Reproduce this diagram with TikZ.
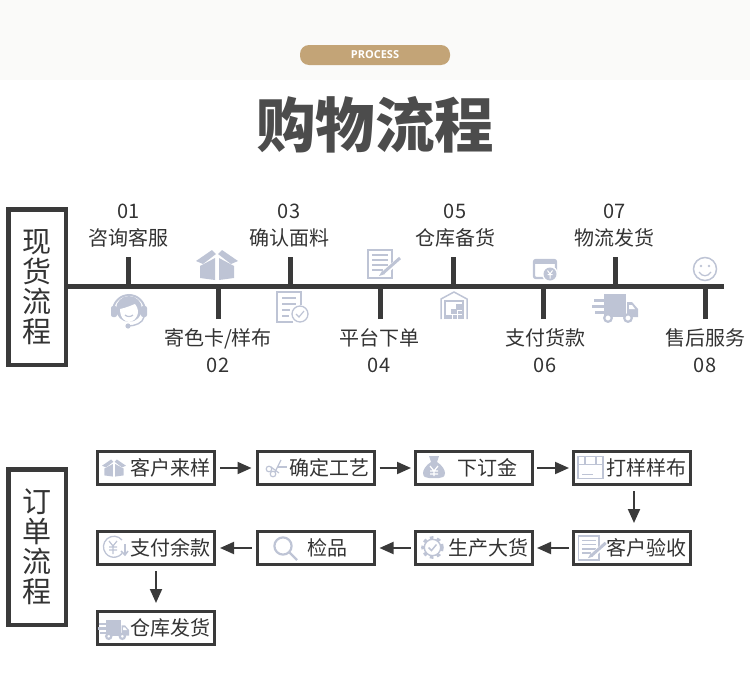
\documentclass[tikz,border=0pt]{standalone}
\usepackage{fontspec}
\setmainfont{Noto Sans CJK SC}
\newfontfamily\latinfont{Open Sans}
\usetikzlibrary{arrows.meta}
\definecolor{inkgray}{HTML}{333333}
\definecolor{linegray}{HTML}{3A3A3A}
\definecolor{icongray}{HTML}{BEC4D5}
\definecolor{bandgray}{HTML}{FAFAF9}
\definecolor{pillgold}{HTML}{C3A477}
\tikzset{
    sidebox/.style={draw=linegray, line width=4.5pt, minimum width=57.5pt, minimum height=155.5pt, inner sep=0pt, align=center, text=inkgray, font=\fontsize{29}{30}\selectfont},
    steplabel/.style={text=inkgray, align=center, inner sep=0pt, font=\fontsize{20}{27}\selectfont},
    spine/.style={draw=linegray, line width=5pt},
    tick/.style={draw=linegray, line width=5pt},
    procbox/.style={draw=linegray, line width=3pt, text width=108pt, minimum height=33pt, inner sep=4.5pt, align=right, text=inkgray, font=\fontsize{20}{24}\selectfont},
    flow/.style={draw=linegray, line width=2pt, -{Triangle[length=14pt, width=12pt]}},
    boxicon/.pic={
        \fill[icongray] (-21,-4) -- (-5,-15) -- (-1,-11) -- (-14,-1) -- cycle;
        \fill[icongray] (21,-4) -- (5,-15) -- (1,-11) -- (14,-1) -- cycle;
        \fill[icongray] (-17,1) -- (-2,-7) -- (-2,15) -- (-17,13) -- cycle;
        \fill[icongray] (17,1) -- (2,-7) -- (2,15) -- (17,13) -- cycle;
    },
    headseticon/.pic={
        \draw[icongray, line width=2pt] (-16,1) arc[start angle=180, end angle=360, radius=16];
        \fill[icongray] (0,-1) circle (13);
        \fill[white] (-9,-1) .. controls (-3,-2) and (3,-5) .. (6,-6) .. controls (8,-3) and (9,-1) .. (9,1) .. controls (9,9) and (3,12) .. (0,12) .. controls (-3,12) and (-9,9) .. (-9,-1) -- cycle;
        \fill[icongray, rounded corners=2pt] (-18,-4) rectangle (-12,7);
        \fill[icongray, rounded corners=2pt] (12,-4) rectangle (18,7);
        \draw[icongray, line width=1.2pt] (-4,5) .. controls (-2,7) and (2,7) .. (4,5);
        \draw[icongray, line width=1.4pt] (15,7) .. controls (14,13) and (6,16) .. (-1,16);
        \fill[icongray] (-1,16) circle (2.6);
    },
    dociconcheck/.pic={
        \draw[icongray, line width=1.3pt] (1,15) -- (-15,15) -- (-15,-15) -- (9,-15) -- (9,-2);
        \draw[icongray, line width=1.3pt] (-10,-9) -- (4,-9) (-10,-3) -- (4,-3) (-10,3) -- (-2,3) (-10,9) -- (-3,9);
        \draw[icongray, fill=white, line width=1.3pt] (8,7) circle (8);
        \draw[icongray, line width=1.2pt] (4,7) -- (7,10) -- (12,4);
    },
    dociconpen/.pic={
        \draw[icongray, line width=1.3pt] (-17,-14) rectangle (7,14);
        \draw[icongray, line width=1.3pt] (-13,-9) -- (3,-9) (-13,-4) -- (3,-4) (-13,1) -- (3,1) (-13,6) -- (-2,6);
        \draw[white, line width=5pt] (-3,11) -- (16,-6);
        \draw[icongray, line width=3pt] (-2,9) -- (15,-6);
        \fill[icongray] (-6,12) -- (-3,7) -- (0,10) -- cycle;
    },
    warehouseicon/.pic={
        \draw[icongray, line width=1.5pt] (-13,14) -- (-13,-6) -- (0,-13) -- (13,-6) -- (13,14);
        \draw[icongray, line width=1.3pt] (-9,14) -- (-9,-4) -- (9,-4) -- (9,14);
        \fill[icongray] (2,-1) rectangle (8,5);
        \fill[icongray] (-3,4) rectangle (3,9);
        \fill[icongray] (4,6) rectangle (8,9);
        \fill[icongray] (-8,10) rectangle (-2,14);
        \fill[icongray] (-1,10) rectangle (3,14);
        \fill[icongray] (4,10) rectangle (8,14);
    },
    cardicon/.pic={
        \draw[icongray, line width=2.4pt, rounded corners=2pt] (-11,-9) rectangle (11,9);
        \fill[icongray] (-11,-9) rectangle (11,-5);
        \fill[white] (5,5) circle (8);
        \fill[icongray] (5,5) circle (6.5);
        \draw[white, line width=1pt] (2.5,1.5) -- (5,5) -- (7.5,1.5) (5,5) -- (5,9.5) (2.5,5.5) -- (7.5,5.5);
    },
    truckicon/.pic={
        \fill[icongray] (-11,-14) rectangle (11,9);
        \fill[icongray] (12,-6) -- (17,-6) -- (23,1) -- (23,9) -- (12,9) -- cycle;
        \fill[white] (14,-3) -- (17,-3) -- (20,1) -- (14,1) -- cycle;
        \fill[icongray] (-21,-9) rectangle (-11,-6);
        \fill[icongray] (-23,-3) rectangle (-11,0);
        \fill[icongray] (-20,3) rectangle (-11,6);
        \draw[icongray, fill=white, line width=2.2pt] (-7,10) circle (3.8);
        \draw[icongray, fill=white, line width=2.2pt] (13,10) circle (3.8);
    },
    smileicon/.pic={
        \draw[icongray, line width=1.5pt] (0,0) circle (11.5);
        \fill[icongray] (-4,-3) circle (1.4);
        \fill[icongray] (4,-3) circle (1.4);
        \draw[icongray, line width=1.3pt] (-6,3) .. controls (-3,8) and (3,8) .. (6,3);
    },
    scissoricon/.pic={
        \draw[icongray, line width=1.2pt] (-7,1) circle (2.8);
        \draw[icongray, line width=1.2pt] (-3,6) circle (2.8);
        \draw[icongray, line width=1.2pt] (-5,-1) -- (3,5);
        \draw[icongray, line width=1.2pt] (-1,4) -- (5,-8);
        \draw[icongray, line width=1.2pt] (2,-1) -- (11,-1);
    },
    bagicon/.pic={
        \fill[icongray] (-5,-11) -- (5,-11) -- (3,-5) -- (-3,-5) -- cycle;
        \fill[icongray] (-3,-5) .. controls (-8,-2) and (-11,3) .. (-11,6) .. controls (-11,10) and (-8,11) .. (-5,11) -- (5,11) .. controls (8,11) and (11,10) .. (11,6) .. controls (11,3) and (8,-2) .. (3,-5) -- cycle;
        \draw[white, line width=1.2pt] (-4,-1) -- (0,4) -- (4,-1) (0,4) -- (0,9) (-4,4) -- (4,4) (-4,7) -- (4,7);
    },
    flaticon/.pic={
        \draw[icongray, line width=1.5pt] (-12,-11) rectangle (13,11);
        \draw[icongray, line width=1.5pt] (-5,-11) -- (-5,-3) -- (6,-3) -- (6,-11);
        \draw[icongray, line width=1.5pt] (-12,-3) -- (-5,-3) (6,-3) -- (13,-3);
        \draw[icongray, line width=1.5pt] (-8,7) -- (3,7);
    },
    gearicon/.pic={
        \draw[icongray, line width=1.4pt] (0,0) circle (8.2);
        \draw[icongray, line width=3pt, dash pattern=on 3.6pt off 3.6pt] (0,0) circle (9.8);
        \draw[icongray, line width=1.5pt] (-4,0) -- (-1,3) -- (4,-3);
    },
    lensicon/.pic={
        \draw[icongray, line width=2.2pt] (-3,-3) circle (8.6);
        \draw[icongray, line width=2.4pt] (3,3) -- (11,11);
    },
    yenicon/.pic={
        \draw[icongray, line width=1.3pt] (8,-7) arc[start angle=-40, end angle=-320, radius=10.5];
        \draw[icongray, line width=1.2pt] (-5,-6) -- (-1,-1) -- (3,-6) (-1,-1) -- (-1,7) (-5,0) -- (3,0) (-5,3) -- (3,3);
        \draw[icongray, line width=1.5pt] (11,-3) -- (11,8);
        \draw[icongray, line width=1.5pt] (7,4) -- (11,8) -- (14,4);
    },
}

\begin{document}
\begin{tikzpicture}[x=1pt, y=-1pt]
    \useasboundingbox (0,0) rectangle (750,680);
    \fill[bandgray] (0,0) rectangle (750,80);
    \node[fill=pillgold, rounded corners=9pt, minimum width=150pt, minimum height=20pt, inner sep=0pt, text=white, font=\latinfont\bfseries\fontsize{11}{11}\selectfont] (process) at (375,55) {\raisebox{-1pt}{PROCESS}};
    \node[inner sep=0pt, text=black!70, font=\bfseries\fontsize{59.5}{60}\selectfont] (title) at (375,125) {购物流程};

    \node[sidebox] (xianhuo) at (37,287) {现\\货\\流\\程};
    \coordinate (spineend) at (724,286);
    \draw[spine] (xianhuo.east |- spineend) -- (spineend);

    \node[steplabel] (lab01) at (128.5,225.5) {01\\咨询客服};
    \node[steplabel] (lab02) at (218,351) {寄色卡/样布\\02};
    \node[steplabel] (lab03) at (289,225.5) {03\\确认面料};
    \node[steplabel] (lab04) at (379,351) {平台下单\\04};
    \node[steplabel] (lab05) at (455,225.5) {05\\仓库备货};
    \node[steplabel] (lab06) at (545,351) {支付货款\\06};
    \node[steplabel] (lab07) at (614.5,225.5) {07\\物流发货};
    \node[steplabel] (lab08) at (705,351) {售后服务\\08};

    \coordinate (end01) at (128,257);
    \coordinate (end02) at (218,319);
    \coordinate (end03) at (290,257);
    \coordinate (end04) at (380,319);
    \coordinate (end05) at (453,257);
    \coordinate (end06) at (543.5,319);
    \coordinate (end07) at (615,257);
    \coordinate (end08) at (705,319);
    \draw[tick] (end01) -- (end01 |- spineend);
    \draw[tick] (end02) -- (end02 |- spineend);
    \draw[tick] (end03) -- (end03 |- spineend);
    \draw[tick] (end04) -- (end04 |- spineend);
    \draw[tick] (end05) -- (end05 |- spineend);
    \draw[tick] (end06) -- (end06 |- spineend);
    \draw[tick] (end07) -- (end07 |- spineend);
    \draw[tick] (end08) -- (end08 |- spineend);

    \pic at (129,310) {headseticon};
    \pic at (217,265) {boxicon};
    \pic at (292,307) {dociconcheck};
    \pic at (385,264) {dociconpen};
    \pic at (454,305) {warehouseicon};
    \pic at (545,269) {cardicon};
    \pic at (615,308) {truckicon};
    \pic at (705,269) {smileicon};

    \node[sidebox] (dingdan) at (37,547) {订\\单\\流\\程};

    \node[procbox] (kehulaiyang) at (156,468) {客户来样};
    \node[procbox] (gongyi) at (315.5,468) {确定工艺};
    \node[procbox] (dingjin) at (474,468) {下订金\hspace*{11pt}};
    \node[procbox] (dayang) at (632,468) {打样样布};
    \node[procbox] (yanshou) at (632,548) {客户验收};
    \node[procbox] (dahuo) at (474,548) {生产大货};
    \node[procbox] (jianpin) at (315.5,548) {检品\hspace*{22pt}};
    \node[procbox] (yukuan) at (156,548) {支付余款};
    \node[procbox] (fahuo) at (156,628) {仓库发货};

    \draw[flow, shorten <=4pt, shorten >=4pt] (kehulaiyang) -- (gongyi);
    \draw[flow, shorten <=4pt, shorten >=3pt] (gongyi) -- (dingjin);
    \draw[flow, shorten <=3pt, shorten >=3pt] (dingjin) -- (dayang);
    \draw[flow, shorten <=5pt, shorten >=7pt] ([xshift=2pt]dayang.south) -- ([xshift=2pt]yanshou.north);
    \draw[flow, shorten <=3pt, shorten >=3pt] (yanshou) -- (dahuo);
    \draw[flow, shorten <=3pt, shorten >=4pt] (dahuo) -- (jianpin);
    \draw[flow, shorten <=4pt, shorten >=4pt] (jianpin) -- (yukuan);
    \draw[flow, shorten <=5pt, shorten >=7pt] (yukuan) -- (fahuo);

    \pic[scale=.57] at (114,468) {boxicon};
    \pic at (276,468) {scissoricon};
    \pic at (434,467) {bagicon};
    \pic at (590,467.5) {flaticon};
    \pic[scale=.85] at (593,548) {dociconpen};
    \pic at (432.5,547.5) {gearicon};
    \pic at (286,549) {lensicon};
    \pic at (114,547) {yenicon};
    \pic[scale=.68] at (113.5,629.5) {truckicon};
\end{tikzpicture}
\end{document}
